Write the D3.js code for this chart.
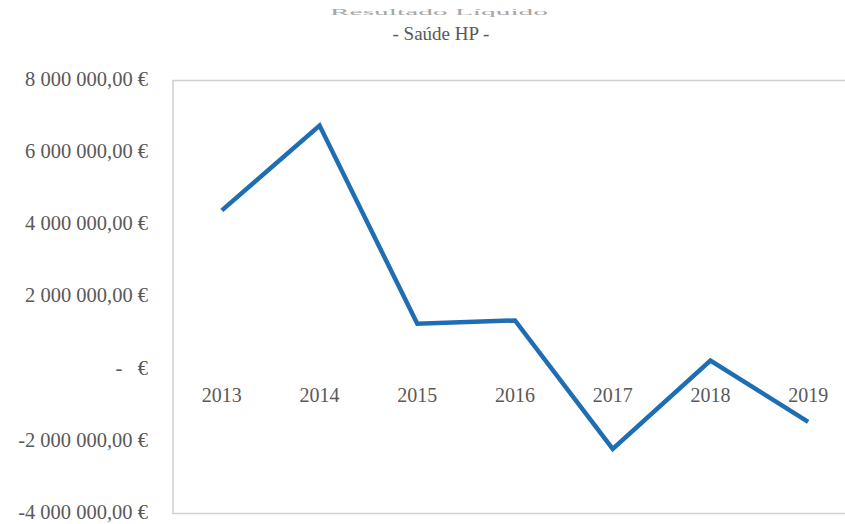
<!DOCTYPE html>
<html>
<head>
<meta charset="utf-8">
<script src="https://cdn.jsdelivr.net/npm/d3@7"></script>
<style>
  html, body { margin: 0; padding: 0; background: #ffffff; }
  svg { display: block; }
</style>
</head>
<body>
<script>
// Annual net result, Saúde HP
const years = ["2013", "2014", "2015", "2016", "2017", "2018", "2019"];
const values = [4400000, 6750000, 1260000, 1350000, -2210000, 240000, -1460000];
const yTicks = [8000000, 6000000, 4000000, 2000000, 0, -2000000, -4000000];
const title = "Resultado Líquido";
const subtitle = "- Saúde HP -";

const W = 845, H = 524;
const plot = { left: 173, top: 80.5, right: 857, bottom: 513.5 };

const svg = d3.select("body").append("svg")
  .attr("width", W).attr("height", H);

const x = d3.scaleBand().domain(years).range([plot.left, plot.right]);
const y = d3.scaleLinear().domain([-4000000, 8000000]).range([plot.bottom, plot.top]);

const textColor = "#595959";
const font = "'Liberation Serif', 'Times New Roman', serif";

// Euro values in Portuguese accounting style
const pt = d3.formatLocale({ decimal: ",", thousands: "\u00a0", grouping: [3], currency: ["", " €"], minus: "-" });
const fmt = pt.format(",.2f");
const euro = v => v === 0 ? "-\u00a0\u00a0\u00a0€" : fmt(v) + "\u00a0€";

// Titles
svg.append("text")
  .attr("x", 439).attr("y", 15)
  .attr("text-anchor", "middle")
  .attr("font-family", font).attr("font-size", 8)
  .attr("textLength", 218).attr("lengthAdjust", "spacingAndGlyphs")
  .attr("fill", "#a6a6a6")
  .text(title);

svg.append("text")
  .attr("x", 441).attr("y", 40)
  .attr("text-anchor", "middle")
  .attr("font-family", font).attr("font-size", 19)
  .attr("fill", textColor)
  .text(subtitle);

// Plot frame
svg.append("rect")
  .attr("x", plot.left).attr("y", plot.top)
  .attr("width", plot.right - plot.left).attr("height", plot.bottom - plot.top)
  .attr("fill", "none").attr("stroke", "#d0d0d0").attr("stroke-width", 1.5);

// Y axis labels
const yAxis = d3.axisLeft(y).tickValues(yTicks).tickFormat(euro).tickSize(0).tickPadding(0);
const gy = svg.append("g").attr("transform", "translate(148,0)").call(yAxis);
gy.select(".domain").remove();
gy.selectAll("text")
  .attr("font-family", font).attr("font-size", 20.5)
  .attr("fill", textColor).attr("dy", "0.24em");

// Category labels, next to the zero line
const xAxis = d3.axisBottom(x).tickSize(0).tickPadding(0);
const gx = svg.append("g").attr("transform", `translate(0,${y(0)})`).call(xAxis);
gx.select(".domain").remove();
gx.selectAll("text")
  .attr("font-family", font).attr("font-size", 20)
  .attr("fill", textColor).attr("dy", "0").attr("y", 33);

// Series line
const line = d3.line()
  .x((d, i) => x(years[i]) + x.bandwidth() / 2)
  .y(d => y(d));

svg.append("path")
  .datum(values)
  .attr("d", line)
  .attr("fill", "none")
  .attr("stroke", "#1f6eb3")
  .attr("stroke-width", 4.5)
  .attr("stroke-linejoin", "miter")
  .attr("stroke-linecap", "butt");
</script>
</body>
</html>
